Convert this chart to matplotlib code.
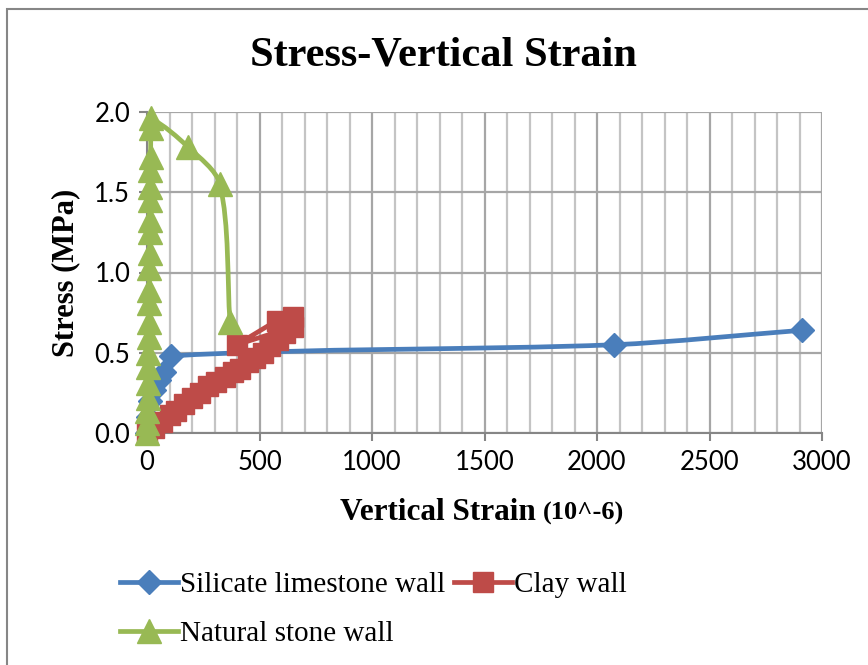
import matplotlib
matplotlib.use("Agg")
import matplotlib.pyplot as plt
import numpy as np
from matplotlib.path import Path
from matplotlib.patches import PathPatch, Rectangle
from matplotlib.ticker import MultipleLocator

# data
silicate_x = [0, 5, 15, 30, 55, 75, 105, 2075, 2910]
silicate_y = [0.0, 0.10, 0.20, 0.27, 0.33, 0.38, 0.48, 0.55, 0.64]

clay_x = [0, 30, 65, 100, 130, 165, 200, 235, 270, 305, 345, 380, 415, 450,
          480, 515, 547, 580, 613, 649, 399, 576, 649]
clay_y = [0.0, 0.03, 0.07, 0.11, 0.14, 0.18, 0.22, 0.25, 0.29, 0.32, 0.35, 0.38,
          0.40, 0.44, 0.47, 0.50, 0.54, 0.58, 0.62, 0.66, 0.55, 0.70, 0.72]

stone_x = [0, 1, 2, 3, 4, 5, 6, 7, 8, 9, 10, 11, 12, 13, 13, 14, 15, 15, 16,
           17, 18, 184, 324, 369]
stone_y = [0.0, 0.06, 0.14, 0.22, 0.31, 0.41, 0.50, 0.60, 0.69, 0.81, 0.89,
           1.03, 1.12, 1.25, 1.33, 1.45, 1.53, 1.64, 1.72, 1.90, 1.96, 1.78,
           1.55, 0.69]

BLUE = "#4A7EBB"
RED = "#BE4B48"
GREEN = "#98B954"
GRAY = "#868686"
SERIF = "Liberation Serif"


def smooth_path(ax, xs, ys):
    """Smoothed line (bezier) built in display space; control arms are capped
    by the segment length so uneven spacing doesn't make loops."""
    pts = ax.transData.transform(np.column_stack([xs, ys]))
    n = len(pts)

    def tangent(i):
        d = pts[min(i + 1, n - 1)] - pts[max(i - 1, 0)]
        norm = np.hypot(*d)
        return d / norm if norm else d

    verts = [pts[0]]
    codes = [Path.MOVETO]
    for i in range(n - 1):
        p1, p2 = pts[i], pts[i + 1]
        seg = np.hypot(*(p2 - p1))
        c1 = p1 + tangent(i) * seg * 0.3
        c2 = p2 - tangent(i + 1) * seg * 0.3
        verts += [c1, c2, p2]
        codes += [Path.CURVE4] * 3
    verts = ax.transData.inverted().transform(np.array(verts))
    return Path(verts, codes)


fig = plt.figure(figsize=(8.68, 6.65), dpi=100)
ax = fig.add_axes([147 / 868, 1 - 433 / 665, 675 / 868, 321 / 665])
ax.set_xlim(0, 3000)
ax.set_ylim(0, 2.0)

# outer chart border (cropped on the right/bottom)
fig.patches.append(Rectangle((7 / 868, -0.1), 1.2, 1 - 9 / 665 + 0.1,
                             transform=fig.transFigure, fill=False,
                             edgecolor=GRAY, lw=1.5))

# gridlines
ax.xaxis.set_major_locator(MultipleLocator(500))
ax.xaxis.set_minor_locator(MultipleLocator(100))
ax.yaxis.set_major_locator(MultipleLocator(0.5))
ax.grid(True, which="minor", axis="x", color="#C4C4C4", lw=1.6)
ax.grid(True, which="major", axis="x", color="#A6A6A6", lw=1.6)
ax.grid(True, which="major", axis="y", color="#A6A6A6", lw=1.6)
ax.set_axisbelow(True)
for s in ["top", "right"]:
    ax.spines[s].set_visible(False)
for s in ["left", "bottom"]:
    ax.spines[s].set_color(GRAY)
    ax.spines[s].set_linewidth(1.5)
ax.tick_params(which="major", direction="out", length=6, width=1.5, color=GRAY,
               labelsize=18.5, pad=6)
ax.tick_params(which="minor", length=0)
ax.set_yticks([0, 0.5, 1.0, 1.5, 2.0])
ax.set_yticklabels(["0.0", "0.5", "1.0", "1.5", "2.0"])
for lab in ax.get_xticklabels() + ax.get_yticklabels():
    lab.set_family("Lato")

# series
ax.add_patch(PathPatch(smooth_path(ax, silicate_x, silicate_y), fill=False,
                       edgecolor=BLUE, lw=3.4, zorder=3, clip_on=False))
ax.plot(silicate_x, silicate_y, ls="none", marker="D", ms=12, color=BLUE,
        zorder=3.1, clip_on=False)
ax.plot(clay_x, clay_y, color=RED, lw=3.4, zorder=4, clip_on=False)
ax.plot(clay_x, clay_y, ls="none", marker="s", ms=15, color=RED,
        zorder=4.1, clip_on=False)
ax.add_patch(PathPatch(smooth_path(ax, stone_x, stone_y), fill=False,
                       edgecolor=GREEN, lw=3.4, zorder=5, clip_on=False))
ax.plot(stone_x, stone_y, ls="none", marker="^", ms=17, color=GREEN,
        zorder=5.1, clip_on=False)

# legend proxies
l1, = ax.plot([], [], color=BLUE, lw=3.4, marker="D", ms=12)
l2, = ax.plot([], [], color=RED, lw=3.4, marker="s", ms=15)
l3, = ax.plot([], [], color=GREEN, lw=3.4, marker="^", ms=17)

fig.text(443 / 868, 1 - 55 / 665, "Stress-Vertical Strain", ha="center",
         va="center", family=SERIF, weight="bold", fontsize=30.5)
ax.set_ylabel("Stress (MPa)", family=SERIF, weight="bold", fontsize=22,
              labelpad=10)
base_y = 1 - 520 / 665
xl = fig.text(340 / 868, base_y, "Vertical Strain", ha="left",
              va="baseline", family=SERIF, weight="bold", fontsize=22.5)
fig.canvas.draw()
bb = xl.get_window_extent().transformed(fig.transFigure.inverted())
fig.text(bb.x1 + 7 / 868, base_y, "(10^-6)", ha="left", va="baseline",
         family=SERIF, weight="bold", fontsize=19)

fig.legend([l1, l3, l2], ["Silicate limestone wall", "Natural stone wall",
                          "Clay wall"],
           ncol=2, loc="upper left", bbox_to_anchor=(120 / 868, 1 - 572 / 665),
           frameon=False, prop={"family": SERIF, "size": 21},
           handlelength=2.0, handletextpad=0.05, columnspacing=0.3,
           labelspacing=0.75, borderpad=0, borderaxespad=0)

fig.savefig("out.png", dpi=100)
